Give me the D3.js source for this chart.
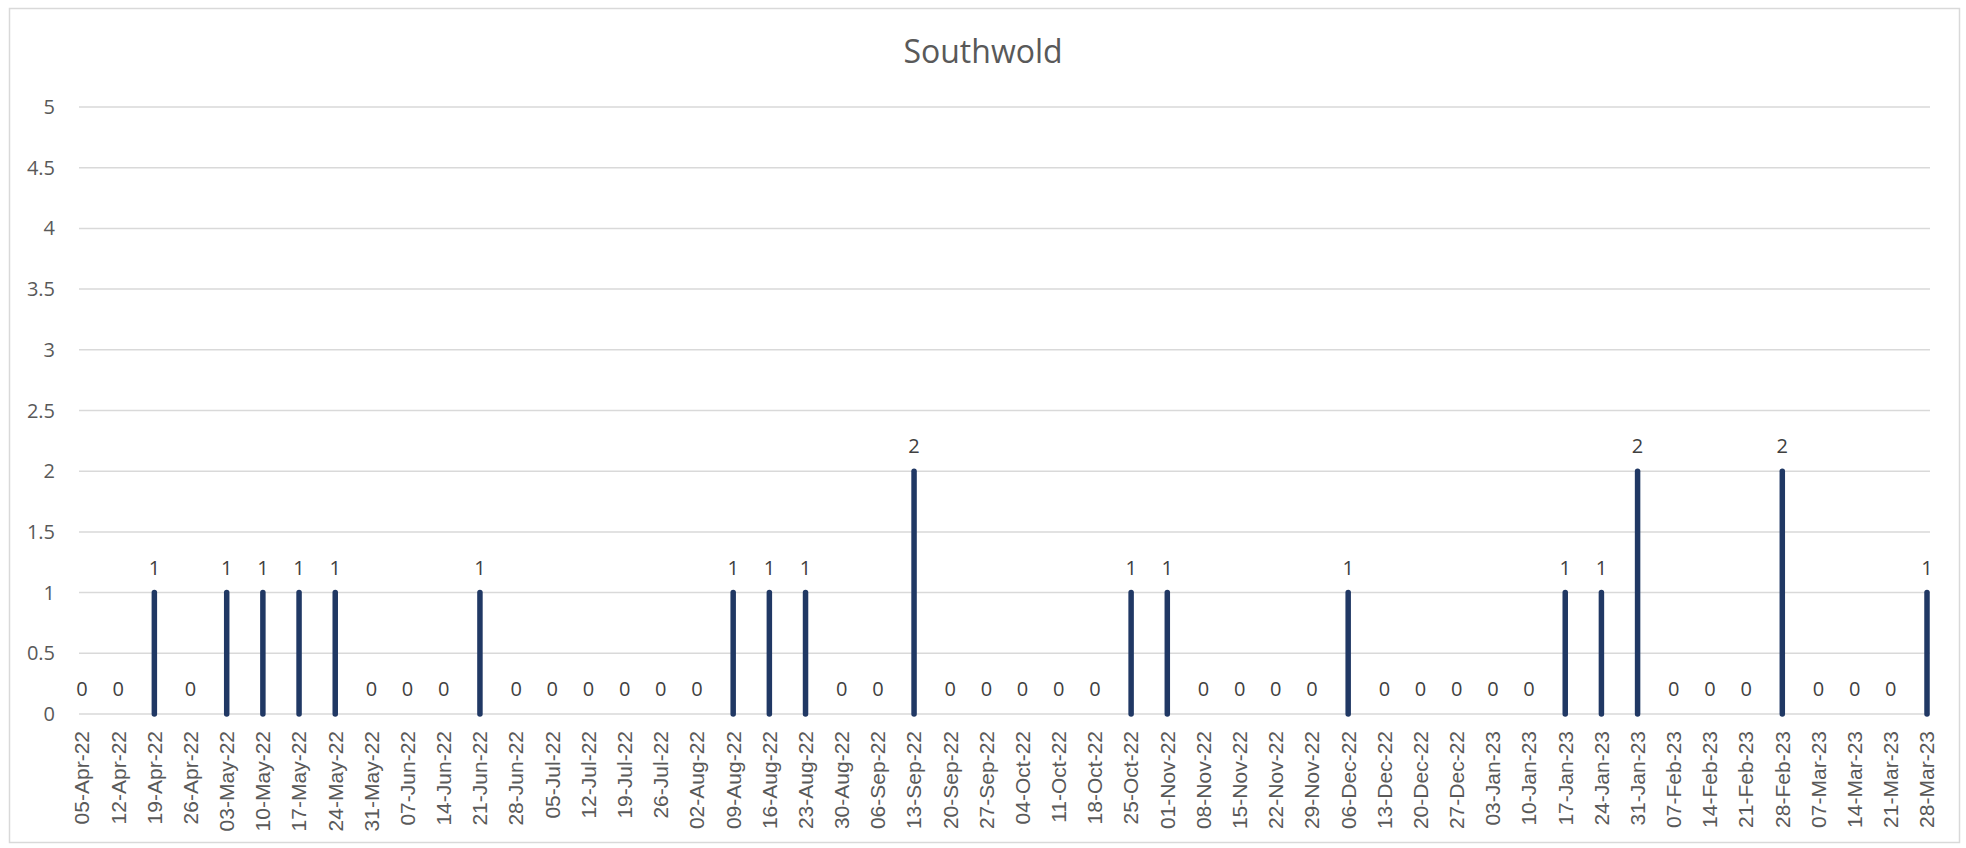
<!DOCTYPE html>
<html>
  <head>
    <script src="https://d3js.org/d3.v7.min.js"></script>
    <style>
      body { margin: 0; background: #fff; }
    </style>
  </head>
  <body>
    <script>

    // weekly dates (category axis)
    var weeks = [
      "05-Apr-22", "12-Apr-22", "19-Apr-22", "26-Apr-22",
      "03-May-22", "10-May-22", "17-May-22", "24-May-22", "31-May-22",
      "07-Jun-22", "14-Jun-22", "21-Jun-22", "28-Jun-22",
      "05-Jul-22", "12-Jul-22", "19-Jul-22", "26-Jul-22",
      "02-Aug-22", "09-Aug-22", "16-Aug-22", "23-Aug-22", "30-Aug-22",
      "06-Sep-22", "13-Sep-22", "20-Sep-22", "27-Sep-22",
      "04-Oct-22", "11-Oct-22", "18-Oct-22", "25-Oct-22",
      "01-Nov-22", "08-Nov-22", "15-Nov-22", "22-Nov-22", "29-Nov-22",
      "06-Dec-22", "13-Dec-22", "20-Dec-22", "27-Dec-22",
      "03-Jan-23", "10-Jan-23", "17-Jan-23", "24-Jan-23", "31-Jan-23",
      "07-Feb-23", "14-Feb-23", "21-Feb-23", "28-Feb-23",
      "07-Mar-23", "14-Mar-23", "21-Mar-23", "28-Mar-23"
    ];

    // counts per week
    var counts = [
      0, 0, 1, 0,
      1, 1, 1, 1, 0,
      0, 0, 1, 0,
      0, 0, 0, 0,
      0, 1, 1, 1, 0,
      0, 2, 0, 0,
      0, 0, 0, 1,
      1, 0, 0, 0, 0,
      1, 0, 0, 0,
      0, 0, 1, 1, 2,
      0, 0, 0, 2,
      0, 0, 0, 1
    ];

    var yTicks = [0, 0.5, 1, 1.5, 2, 2.5, 3, 3.5, 4, 4.5, 5];

    var w = 1966;
    var h = 848;
    var textColor = "#595959";
    var gridColor = "#d9d9d9";
    var barColor = "#203864";

    var svg = d3.select("body")
      .append("svg")
      .attr("width", w)
      .attr("height", h);

    // chart border
    svg.append("rect")
      .attr("x", 9.5).attr("y", 8.5)
      .attr("width", 1950).attr("height", 834)
      .attr("fill", "#fff")
      .attr("stroke", gridColor)
      .attr("stroke-width", 1.5);

    var x = d3.scalePoint()
      .domain(weeks)
      .range([82, 1927]);

    var y = d3.scaleLinear()
      .domain([0, 5])
      .range([714, 107]);

    // horizontal gridlines
    svg.append("g")
      .selectAll("line")
      .data(yTicks)
      .enter()
      .append("line")
      .attr("x1", 79)
      .attr("x2", 1930)
      .attr("y1", function(d) { return y(d); })
      .attr("y2", function(d) { return y(d); })
      .attr("stroke", gridColor)
      .attr("stroke-width", 1.5);

    // y tick labels
    svg.append("g")
      .selectAll("text")
      .data(yTicks)
      .enter()
      .append("text")
      .text(function(d) { return d; })
      .attr("x", 55)
      .attr("y", function(d) { return y(d); })
      .attr("dy", "0.35em")
      .attr("text-anchor", "end")
      .attr("font-family", "Open Sans, sans-serif")
      .attr("font-size", "20px")
      .attr("fill", textColor);

    // title
    svg.append("text")
      .text("Southwold")
      .attr("x", 983)
      .attr("y", 63)
      .attr("text-anchor", "middle")
      .attr("font-family", "Open Sans, sans-serif")
      .attr("font-size", "32px")
      .attr("fill", textColor);

    // bars drawn as thick lines from 0
    svg.append("g")
      .selectAll("line")
      .data(weeks)
      .enter()
      .filter(function(d, i) { return counts[i] > 0; })
      .append("line")
      .attr("x1", function(d) { return x(d); })
      .attr("x2", function(d) { return x(d); })
      .attr("y1", y(0))
      .attr("y2", function(d) { return y(counts[weeks.indexOf(d)]); })
      .attr("stroke", barColor)
      .attr("stroke-width", 5.5)
      .attr("stroke-linecap", "round");

    // data labels
    svg.append("g")
      .selectAll("text")
      .data(weeks)
      .enter()
      .append("text")
      .text(function(d, i) { return counts[i]; })
      .attr("x", function(d) { return x(d); })
      .attr("y", function(d, i) { return y(counts[i]) - 25; })
      .attr("dy", "0.35em")
      .attr("text-anchor", "middle")
      .attr("font-family", "Open Sans, sans-serif")
      .attr("font-size", "20px")
      .attr("fill", "#404040");

    // x tick labels, rotated
    svg.append("g")
      .selectAll("text")
      .data(weeks)
      .enter()
      .append("text")
      .text(function(d) { return d; })
      .attr("transform", function(d) {
        return "translate(" + x(d) + ",731) rotate(-90)";
      })
      .attr("dy", "0.35em")
      .attr("text-anchor", "end")
      .attr("font-family", "Liberation Sans, Arial, sans-serif")
      .attr("font-size", "21px")
      .attr("fill", textColor);

    </script>
  </body>
</html>
